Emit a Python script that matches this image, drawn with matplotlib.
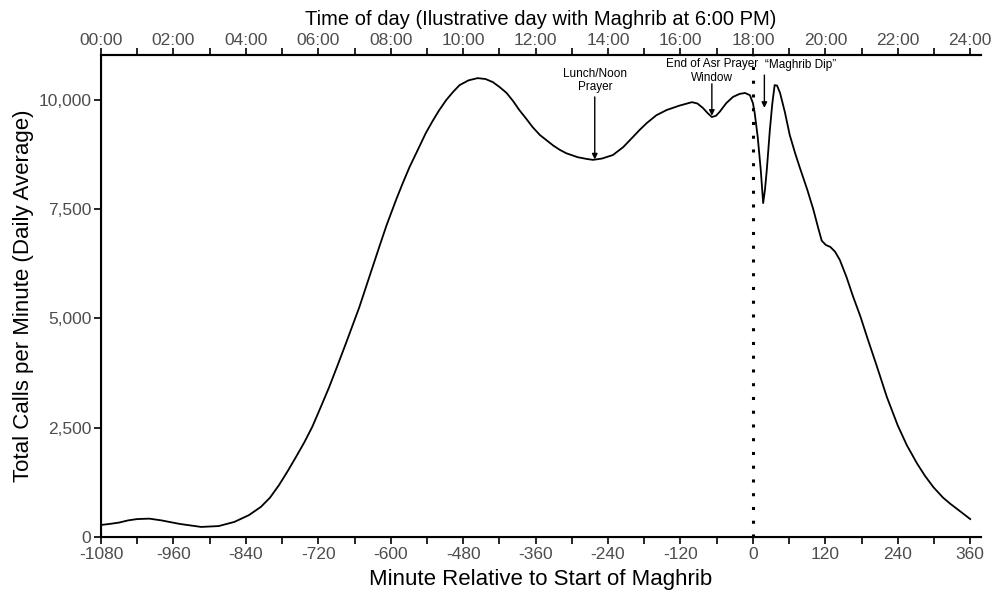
"""Calls per minute around the start of Maghrib."""
import matplotlib
matplotlib.use("Agg")
import matplotlib.pyplot as plt
from matplotlib.ticker import FuncFormatter

plt.rcParams["font.family"] = ["Liberation Sans", "DejaVu Sans"]

# minutes relative to Maghrib and average calls per minute
minutes = [-1080, -1065, -1050, -1035, -1020, -1000, -980, -950, -914, -885,
           -859, -835, -815, -800, -785, -771, -757, -743, -730, -716,
           -702, -688, -674, -663, -652, -641, -630, -618, -607, -591,
           -580, -569, -552, -542, -531, -520, -508, -497, -486, -471,
           -456, -443, -431, -420, -408, -397, -387, -376, -365, -353,
           -342, -331, -320, -309, -290, -275, -265, -250, -232, -215,
           -199, -188, -176, -160, -143, -122, -101, -92, -83, -75,
           -68, -61, -55, -44, -33, -22, -13, -5, 0, 3,
           8, 13, 17, 20, 23, 28, 32, 36, 40, 45,
           53, 61, 70, 78, 90, 100, 108, 114, 121, 128,
           136, 144, 155, 166, 178, 189, 205, 222, 240, 255,
           272, 285, 299, 315, 327, 345, 360]
calls = [275, 300, 330, 380, 410, 420, 380, 300, 230, 250,
         345, 500, 690, 900, 1190, 1500, 1830, 2170, 2520, 2970,
         3430, 3930, 4440, 4850, 5260, 5720, 6180, 6680, 7130, 7720,
         8100, 8460, 8950, 9240, 9510, 9760, 10000, 10180, 10340, 10450,
         10500, 10480, 10410, 10300, 10160, 9970, 9770, 9580, 9380, 9200,
         9080, 8960, 8860, 8780, 8690, 8650, 8630, 8660, 8740, 8920,
         9150, 9310, 9470, 9650, 9770, 9870, 9950, 9920, 9820, 9700,
         9610, 9640, 9730, 9930, 10070, 10140, 10160, 10110, 9930, 9700,
         9150, 8400, 7640, 7950, 8400, 9300, 9900, 10340, 10330, 10160,
         9720, 9200, 8780, 8440, 7950, 7500, 7080, 6780, 6680, 6640,
         6530, 6340, 5950, 5500, 5050, 4580, 3920, 3200, 2550, 2100,
         1680, 1400, 1140, 900, 760, 570, 410]

bottom_ticks = list(range(-1080, 361, 60))
y_ticks = [0, 2500, 5000, 7500, 10000]
top_labels = ["%02d:00" % h for h in range(0, 25)]

# (label, text x, text top y, arrow start y, arrow x, arrow end y)
annotations = [
    ("Lunch/Noon\nPrayer", -262, 10740, 10070, -262, 8640),
    ("End of Asr Prayer\nWindow", -68, 10950, 10370, -68, 9640),
    ("\u201cMaghrib Dip\u201d", 79, 10930, 10570, 19, 9820),
]

GREY = "#4d4d4d"

fig = plt.figure(figsize=(9.94, 5.95), dpi=100)
ax = fig.add_axes([0.1016, 0.0975, 0.8854, 0.8101])

ax.plot(minutes, calls, color="black", lw=1.3)
ax.axvline(0, color="black", ls=(0, (1, 3.5)), lw=2.2)

ax.set_xlim(-1080, 378)
ax.set_ylim(0, 11030)

ax.set_xticks(bottom_ticks)
ax.set_xticklabels([str(t) if (t + 1080) % 120 == 0 else "" for t in bottom_ticks])
ax.set_yticks(y_ticks)
ax.yaxis.set_major_formatter(FuncFormatter(lambda v, _: f"{int(v):,}"))

ax.spines["right"].set_visible(False)
for side in ["left", "bottom", "top"]:
    ax.spines[side].set_linewidth(1.5)

ax.tick_params(axis="both", direction="out", length=5, width=1.2,
               labelsize=12.5, labelcolor=GREY, pad=2)
ax.set_xlabel("Minute Relative to Start of Maghrib", fontsize=16, labelpad=5)
ax.set_ylabel("Total Calls per Minute (Daily Average)", fontsize=16, labelpad=3)

top = ax.twiny()
top.set_xlim(ax.get_xlim())
top.set_xticks(bottom_ticks)
top.set_xticklabels([lbl if i % 2 == 0 else "" for i, lbl in enumerate(top_labels)])
top.spines["right"].set_visible(False)
top.spines["top"].set_linewidth(1.5)
top.tick_params(axis="x", direction="out", length=5, width=1.2,
                labelsize=12.5, labelcolor=GREY, pad=0)
top.set_xlabel("Time of day (Ilustrative day with Maghrib at 6:00 PM)",
               fontsize=14.5, labelpad=6)

for label, tx, ty, ay0, ax_x, ay1 in annotations:
    ax.text(tx, ty, label, ha="center", va="top", fontsize=8.5,
            linespacing=1.15)
    ax.annotate("", xy=(ax_x, ay1), xytext=(ax_x, ay0),
                arrowprops=dict(arrowstyle="-|>", color="black", lw=1,
                                mutation_scale=8, shrinkA=0, shrinkB=0))

fig.savefig("out.png", dpi=100)
